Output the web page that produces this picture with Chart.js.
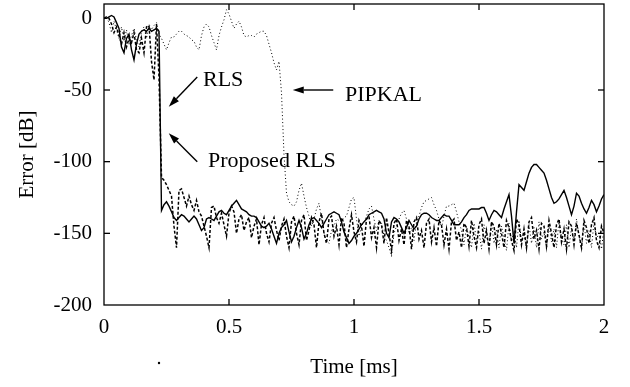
<!DOCTYPE html>
<html>
<head>
<meta charset="utf-8">
<script src="https://cdn.jsdelivr.net/npm/chart.js@4.4.1/dist/chart.umd.min.js"></script>
<style>
  html, body { margin: 0; padding: 0; background: #fff; }
  #wrap { width: 630px; height: 387px; }
</style>
</head>
<body>
<div id="wrap"><canvas id="grafico" width="630" height="387"></canvas></div>
<script>
// Paso de muestreo del eje de tiempo [ms]
const paso = 0.01;
const ticksX = [0, 0.5, 1, 1.5, 2];
const ticksY = [0, -50, -100, -150, -200];

// Error [dB] cada 0.01 ms, de 0 a 2 ms
const errorRLS = [
  0, 0, 1, 2, 1, -3, -7, -20, -24, -14,
  -11, -22, -29, -18, -11, -9, -8, -9, -7, -9,
  -8, -7, -9, -134, -130, -128, -131, -135, -139, -141,
  -139, -137, -138, -140, -142, -140, -138, -140, -144, -148,
  -146, -140, -139, -140, -141, -138, -135, -134, -136, -137,
  -134, -131, -129, -127, -130, -133, -134, -135, -137, -138,
  -138, -139, -142, -145, -146, -145, -143, -147, -152, -157,
  -150, -146, -144, -141, -149, -156, -152, -146, -141, -146,
  -154, -150, -144, -140, -139, -141, -143, -146, -143, -140,
  -137, -136, -135, -136, -137, -142, -149, -153, -157, -155,
  -152, -150, -147, -144, -142, -140, -137, -136, -135, -134,
  -135, -136, -140, -150, -153, -142, -139, -140, -142, -146,
  -150, -146, -141, -144, -147, -145, -140, -137, -136, -136,
  -137, -139, -140, -141, -141, -139, -137, -138, -138, -141,
  -144, -144, -144, -142, -139, -137, -134, -133, -133, -133,
  -133, -132, -132, -136, -141, -137, -134, -135, -137, -139,
  -133, -128, -123, -138, -157, -135, -116, -118, -120, -114,
  -108, -104, -102, -102, -104, -106, -108, -113, -119, -125,
  -129, -128, -126, -123, -120, -125, -131, -137, -131, -122,
  -124, -129, -133, -136, -132, -127, -130, -135, -131, -126,
  -123
];

const errorPropuesto = [
  0, 1, 0, -4, -10, -6, -12, -18, -10, -20,
  -14, -17, -10, -22, -24, -14, -24, -6, -5, -30,
  -43, -4, -41, -111, -113, -116, -120, -124, -145, -160,
  -120, -119, -125, -131, -124, -130, -134, -127, -135, -138,
  -145, -152, -160, -132, -131, -139, -143, -136, -144, -152,
  -136, -131, -135, -150, -140, -137, -148, -142, -139, -153,
  -145, -140, -158, -144, -139, -150, -156, -143, -139, -148,
  -155, -145, -140, -152, -160, -142, -138, -150, -158, -141,
  -137, -155, -148, -139, -144, -160, -142, -136, -150, -157,
  -140, -138, -152, -145, -158, -139, -143, -160, -147, -137,
  -149, -156, -141, -145, -159, -140, -138, -153, -146, -160,
  -141, -144, -157, -139, -150, -162, -143, -140, -155, -147,
  -158, -141, -145, -161, -142, -139, -154, -148, -160, -143,
  -140, -156, -146, -159, -141, -144, -158, -147, -161, -142,
  -140, -155, -149, -160, -143, -146, -159, -141, -152, -160,
  -144, -140, -157, -148, -161, -142, -145, -158, -143, -150,
  -160, -141, -146, -155, -162, -140, -144, -158, -147, -160,
  -142, -139, -154, -148, -161, -143, -145, -159, -141, -150,
  -160, -144, -140, -156, -147, -161, -142, -145, -158, -143,
  -151, -160, -141, -146, -157, -144, -139, -155, -160, -145,
  -150
];

const errorPIPKAL = [
  0, 1, -3, -10, -2, -8, -14, -6, -16, -8,
  -18, -12, -7, -15, -20, -9, -6, -14, -4, -8,
  -5, -3, -11, -14, -18, -22, -17, -13, -13, -11,
  -9, -9, -11, -12, -13, -15, -16, -20, -22, -12,
  -6, -4, -6, -12, -17, -22, -12, -6, -1, 6,
  3, -2, -7, -4, -2, -6, -12, -13, -12, -12,
  -13, -11, -10, -9, -9, -12, -18, -24, -31, -36,
  -30, -52, -95, -122, -128, -130, -131, -128, -120, -115,
  -124, -132, -138, -145, -140, -133, -129, -140, -150, -155,
  -157, -148, -145, -140, -141, -142, -139, -138, -132, -126,
  -125, -140, -152, -145, -142, -138, -133, -131, -140, -148,
  -141, -143, -152, -155, -160, -166, -150, -145, -140, -136,
  -134, -140, -150, -146, -155, -142, -138, -132, -128, -127,
  -126, -125, -130, -134, -140, -146, -138, -131, -131, -130,
  -129, -135, -142, -148, -158, -145, -153, -160, -143, -155,
  -148, -161, -144, -152, -159, -142, -157, -147, -160, -145,
  -153, -162, -143, -156, -148, -160, -141, -155, -150, -161,
  -144, -157, -146, -160, -142, -154, -149, -161, -143, -156,
  -147, -160, -141, -153, -158, -144, -160, -146, -155, -140,
  -152, -161, -143, -157, -148, -160, -142, -154, -150, -161,
  -146
];

// Textos y flechas, en coordenadas de datos
const anotaciones = [
  { texto: 'RLS', x: 0.396, y: -43, desde: [0.373, -41], hasta: [0.259, -61.6] },
  { texto: 'Proposed RLS', x: 0.416, y: -100, desde: [0.373, -100], hasta: [0.259, -80.2] },
  { texto: 'PIPKAL', x: 0.964, y: -53.4, desde: [0.917, -50], hasta: [0.755, -50] }
];

const fuente = "'Liberation Serif', 'Times New Roman', serif";
Chart.defaults.font.family = fuente;
Chart.defaults.font.size = 21;
Chart.defaults.color = '#000';

function aPuntos(valores) {
  return valores.map((v, i) => ({ x: +(i * paso).toFixed(2), y: v }));
}

function linea(ctx, x1, y1, x2, y2) {
  ctx.beginPath();
  ctx.moveTo(x1, y1);
  ctx.lineTo(x2, y2);
  ctx.stroke();
}

function flecha(ctx, x1, y1, x2, y2) {
  const ang = Math.atan2(y2 - y1, x2 - x1);
  const largo = 11, ancho = 3.5;
  const bx = x2 - largo * Math.cos(ang), by = y2 - largo * Math.sin(ang);
  linea(ctx, x1, y1, bx, by);
  ctx.beginPath();
  ctx.moveTo(x2, y2);
  ctx.lineTo(bx + ancho * Math.sin(ang), by - ancho * Math.cos(ang));
  ctx.lineTo(bx - ancho * Math.sin(ang), by + ancho * Math.cos(ang));
  ctx.closePath();
  ctx.fill();
}

// Marco, ticks hacia adentro y anotaciones
const marco = {
  id: 'marco',
  afterDraw(chart) {
    const { ctx, chartArea: a, scales: { x, y } } = chart;
    ctx.save();
    ctx.strokeStyle = '#000';
    ctx.fillStyle = '#000';
    ctx.lineWidth = 1.3;
    ctx.strokeRect(a.left, a.top, a.right - a.left, a.bottom - a.top);
    const t = 6;
    ticksX.slice(1, -1).forEach(v => {
      const px = x.getPixelForValue(v);
      linea(ctx, px, a.bottom, px, a.bottom - t);
      linea(ctx, px, a.top, px, a.top + t);
    });
    ticksY.slice(1, -1).forEach(v => {
      const py = y.getPixelForValue(v);
      linea(ctx, a.left, py, a.left + t, py);
      linea(ctx, a.right, py, a.right - t, py);
    });
    ctx.font = '22px ' + fuente;
    ctx.textAlign = 'left';
    ctx.textBaseline = 'middle';
    ctx.lineWidth = 1.4;
    anotaciones.forEach(n => {
      ctx.fillText(n.texto, x.getPixelForValue(n.x), y.getPixelForValue(n.y));
      flecha(ctx,
        x.getPixelForValue(n.desde[0]), y.getPixelForValue(n.desde[1]),
        x.getPixelForValue(n.hasta[0]), y.getPixelForValue(n.hasta[1]));
    });
    // punto suelto del escaneo bajo el eje
    ctx.beginPath();
    ctx.arc(159, 363, 1.2, 0, Math.PI * 2);
    ctx.fill();
    ctx.restore();
  }
};

const ctx = document.getElementById('grafico').getContext('2d');
new Chart(ctx, {
  type: 'line',
  data: {
    datasets: [
      {
        label: 'PIPKAL',
        data: aPuntos(errorPIPKAL),
        borderColor: '#000',
        borderWidth: 1,
        borderDash: [1, 2.5]
      },
      {
        label: 'Proposed RLS',
        data: aPuntos(errorPropuesto),
        borderColor: '#000',
        borderWidth: 1.5,
        borderDash: [3, 2]
      },
      {
        label: 'RLS',
        data: aPuntos(errorRLS),
        borderColor: '#000',
        borderWidth: 1.4
      }
    ]
  },
  options: {
    responsive: false,
    animation: false,
    devicePixelRatio: 1,
    layout: { padding: { left: 0, right: 26, top: 4, bottom: 0 } },
    elements: { point: { radius: 0 }, line: { tension: 0, fill: false } },
    plugins: { legend: { display: false }, tooltip: { enabled: false } },
    scales: {
      x: {
        type: 'linear',
        min: 0,
        max: 2,
        afterBuildTicks: s => { s.ticks = ticksX.map(v => ({ value: v })); },
        afterFit: s => { s.height = 82; s.paddingLeft = 0; s.paddingRight = 0; },
        grid: { display: false, drawTicks: false },
        border: { display: false },
        ticks: { padding: 10, maxRotation: 0, callback: v => String(v) },
        title: { display: true, text: 'Time [ms]', padding: { top: 0, bottom: 7 } }
      },
      y: {
        type: 'linear',
        min: -200,
        max: 10,
        afterBuildTicks: s => { s.ticks = ticksY.map(v => ({ value: v })); },
        afterFit: s => { s.width = 104; s.paddingTop = 0; s.paddingBottom = 0; },
        grid: { display: false, drawTicks: false },
        border: { display: false },
        ticks: { padding: 12, callback: v => String(v) },
        title: { display: true, text: 'Error [dB]', padding: { top: 15, bottom: 0 } }
      }
    }
  },
  plugins: [marco]
});
</script>
</body>
</html>
